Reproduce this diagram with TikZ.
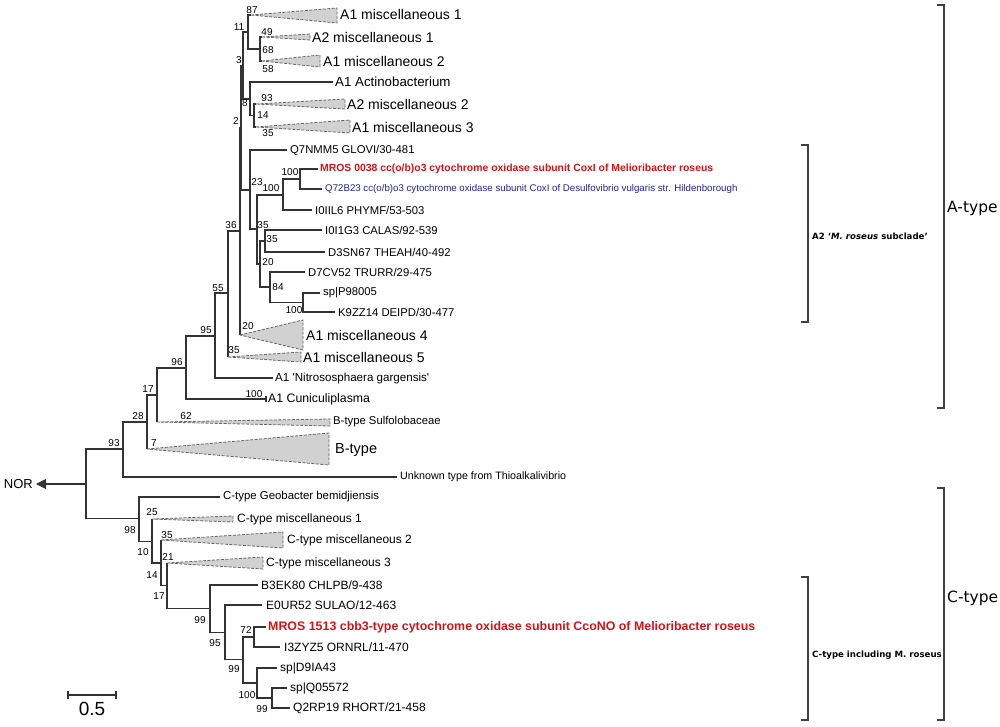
\documentclass[tikz,border=0pt]{standalone}
\usepackage{fontspec}
\setmainfont{Liberation Sans}
\newfontfamily\dvs{DejaVu Sans}
\usetikzlibrary{arrows.meta}
\definecolor{mred}{RGB}{210,20,25}
\definecolor{mblue}{RGB}{35,35,150}
\newcommand\ctri[4]{\filldraw[tri] (#1) -- (#2,#3) -- (#2,#4) -- cycle;}
\begin{document}
\begin{tikzpicture}[x=1pt,y=-1pt,
  br/.style={draw=black!80,line width=1.05pt},
  tri/.style={fill=black!18,draw=black!60,line width=0.8pt,dash pattern=on 3pt off 1.5pt},
  lf/.style={anchor=west,inner sep=0pt,font=\fontsize{11.3}{13}\selectfont},
  lfc/.style={anchor=west,inner sep=0pt,font=\fontsize{12}{14}\selectfont},
  tl/.style={anchor=west,inner sep=0pt,font=\fontsize{14}{16}\selectfont},
  bs/.style={inner sep=0pt,font=\fontsize{10}{11}\selectfont},
  brk/.style={draw=black!75,line width=1.1pt},
  blab/.style={anchor=west,inner sep=0pt,font=\dvs\bfseries\fontsize{8.6}{10}\selectfont},
  tlab/.style={anchor=west,inner sep=0pt,font=\dvs\fontsize{15.5}{17}\selectfont},
  ]
\useasboundingbox (0,0) rectangle (1000,727);

% ---------- internal nodes ----------
\coordinate (root) at (86,484);
\coordinate (n93) at (123,449);
\coordinate (n28) at (147,422);
\coordinate (n17) at (157,395);
\coordinate (n96) at (186,368);
\coordinate (n95) at (215,336);
\coordinate (n55) at (228,293);
\coordinate (n36) at (240,231);
\coordinate (n2) at (241,128);
\coordinate (n3) at (243,65.5);
\coordinate (n11) at (248,32);
\coordinate (n68) at (260,49);
\coordinate (n8) at (250,99);
\coordinate (n14) at (254,115.5);
\coordinate (n23) at (250,190);
\coordinate (n35a) at (257,229);
\coordinate (n100b) at (283,195);
\coordinate (n100a) at (300,179);
\coordinate (n20a) at (260,264);
\coordinate (n35b) at (265,241);
\coordinate (n84) at (270,287);
\coordinate (n100c) at (303,302.5);
% C clade
\coordinate (n98) at (139,518.5);
\coordinate (n10) at (152,541.5);
\coordinate (n14c) at (161,563);
\coordinate (n17c) at (167,585.5);
\coordinate (n99a) at (210,608.5);
\coordinate (n95c) at (225,632.5);
\coordinate (n99b) at (243,659.5);
\coordinate (n72) at (254,637);
\coordinate (n100d) at (257,683);
\coordinate (n99c) at (272,698);

% ---------- leaf tips ----------
\coordinate (a1m1) at (251,15);
\coordinate (a2m1) at (262,37);
\coordinate (a1m2) at (262,61);
\coordinate (act) at (333,82);
\coordinate (a2m2) at (256,104);
\coordinate (a1m3) at (256,127);
\coordinate (q7) at (287,150);
\coordinate (mros) at (318,169);
\coordinate (q72) at (322,189);
\coordinate (i0iil6) at (312,210);
\coordinate (i0i1g3) at (322,230);
\coordinate (d3sn) at (325,252);
\coordinate (d7cv) at (305,272);
\coordinate (p98) at (320,293);
\coordinate (k9zz) at (335,312);
\coordinate (a1m4) at (240,335);
\coordinate (a1m5) at (228,357);
\coordinate (nitro) at (273,378);
\coordinate (cunic) at (266,399);
\coordinate (sulfo) at (157,422);
\coordinate (btype) at (147,449);
\coordinate (unk) at (397,477);
\coordinate (geob) at (220,497);
\coordinate (cm1) at (152,519);
\coordinate (cm2) at (161,540);
\coordinate (cm3) at (167,563);
\coordinate (b3ek) at (258,585);
\coordinate (e0ur) at (262,605);
\coordinate (mr15) at (266,627);
\coordinate (i3zy) at (280,647);
\coordinate (d9ia) at (277,668);
\coordinate (q055) at (287,688);
\coordinate (q2rp) at (290,708);

% ---------- branches ----------
\draw[br] (root) |- (n93); \draw[br] (root) |- (n98);
\draw[br] (n93) |- (n28); \draw[br] (n93) |- (unk);
\draw[br] (n28) |- (n17); \draw[br] (n28) |- (btype);
\draw[br] (n17) |- (n96); \draw[br] (n17) |- (sulfo);
\draw[br] (n96) |- (n95); \draw[br] (n96) |- (cunic);
\draw[br] (n95) |- (n55); \draw[br] (n95) |- (nitro);
\draw[br] (n55) |- (n36); \draw[br] (n55) |- (a1m5);
\draw[br] (n36) |- (n2); \draw[br] (n36) |- (a1m4);
\draw[br] (n2) |- (n3); \draw[br] (n2) |- (n23);
\draw[br] (n3) |- (n11); \draw[br] (n3) |- (n8);
\draw[br] (n11) |- (a1m1); \draw[br] (n11) |- (n68);
\draw[br] (n68) |- (a2m1); \draw[br] (n68) |- (a1m2);
\draw[br] (n8) |- (act); \draw[br] (n8) |- (n14);
\draw[br] (n14) |- (a2m2); \draw[br] (n14) |- (a1m3);
\draw[br] (n23) |- (q7); \draw[br] (n23) |- (n35a);
\draw[br] (n35a) |- (n100b); \draw[br] (n35a) |- (n20a);
\draw[br] (n100b) |- (n100a); \draw[br] (n100b) |- (i0iil6);
\draw[br] (n100a) |- (mros); \draw[br] (n100a) |- (q72);
\draw[br] (n20a) |- (n35b); \draw[br] (n20a) |- (n84);
\draw[br] (n35b) |- (i0i1g3); \draw[br] (n35b) |- (d3sn);
\draw[br] (n84) |- (d7cv); \draw[br] (n84) |- (n100c);
\draw[br] (n100c) |- (p98); \draw[br] (n100c) |- (k9zz);
\draw[br] (cunic) ++(0,-3) -- ++(0,6);
% C clade
\draw[br] (n98) |- (geob); \draw[br] (n98) |- (n10);
\draw[br] (n10) |- (cm1); \draw[br] (n10) |- (n14c);
\draw[br] (n14c) |- (cm2); \draw[br] (n14c) |- (n17c);
\draw[br] (n17c) |- (cm3); \draw[br] (n17c) |- (n99a);
\draw[br] (n99a) |- (b3ek); \draw[br] (n99a) |- (n95c);
\draw[br] (n95c) |- (e0ur); \draw[br] (n95c) |- (n99b);
\draw[br] (n99b) |- (n72); \draw[br] (n99b) |- (n100d);
\draw[br] (n72) |- (mr15); \draw[br] (n72) |- (i3zy);
\draw[br] (n100d) |- (d9ia); \draw[br] (n100d) |- (n99c);
\draw[br] (n99c) |- (q055); \draw[br] (n99c) |- (q2rp);

% ---------- collapsed clades ----------
\ctri{a1m1}{337}{8}{23}
\ctri{a2m1}{310}{34}{40}
\ctri{a1m2}{320}{55}{67}
\ctri{a2m2}{345}{99}{109}
\ctri{a1m3}{350}{120}{133}
\ctri{a1m4}{303}{320}{350}
\ctri{a1m5}{301}{352}{362}
\ctri{sulfo}{330}{419}{426}
\ctri{btype}{329}{433}{465}
\ctri{cm1}{233}{516}{522}
\ctri{cm2}{283}{532}{548}
\ctri{cm3}{263}{557}{569}

% ---------- NOR arrow ----------
\coordinate (norend) at (36,484);
\draw[br,-{Triangle[length=10pt,width=10pt]}] (root) -- (norend);
\node[anchor=east,inner sep=0pt,font=\fontsize{13}{15}\selectfont] (nor) at (33,484) {NOR};

% ---------- leaf labels ----------
\node[tl] (t1) at (340,15) {A1 miscellaneous 1};
\node[tl] (t2) at (312,37) {A2 miscellaneous 1};
\node[tl] (t3) at (323,61) {A1 miscellaneous 2};
\node[anchor=west,inner sep=0pt,font=\fontsize{13.3}{15}\selectfont] (t4) at (335,82) {A1 Actinobacterium};
\node[tl] (t5) at (347,104) {A2 miscellaneous 2};
\node[tl] (t6) at (352,127) {A1 miscellaneous 3};
\node[lf] (t7) at (290,150) {Q7NMM5 GLOVI/30-481};
\node[anchor=west,inner sep=0pt,text=mred,font=\bfseries\fontsize{10.4}{12}\selectfont] (t8) at (320,169) {MROS 0038 cc(o/b)o3 cytochrome oxidase subunit CoxI of Melioribacter roseus};
\node[anchor=west,inner sep=0pt,text=mblue,font=\fontsize{9.7}{11}\selectfont] (t9) at (325,189) {Q72B23 cc(o/b)o3 cytochrome oxidase subunit CoxI of Desulfovibrio vulgaris str. Hildenborough};
\node[lf] (t10) at (315,210) {I0IIL6 PHYMF/53-503};
\node[lf] (t11) at (325,230) {I0I1G3 CALAS/92-539};
\node[lf] (t12) at (328,252) {D3SN67 THEAH/40-492};
\node[lf] (t13) at (308,272) {D7CV52 TRURR/29-475};
\node[lf] (t14) at (323,293) {sp\textbar P98005};
\node[lf] (t15) at (338,312) {K9ZZ14 DEIPD/30-477};
\node[tl] (t16) at (306,335) {A1 miscellaneous 4};
\node[tl] (t17) at (303,357) {A1 miscellaneous 5};
\node[anchor=west,inner sep=0pt,font=\fontsize{11.6}{13}\selectfont] (t18) at (275,378) {A1 \textquotesingle Nitrososphaera gargensis\textquotesingle};
\node[anchor=west,inner sep=0pt,font=\fontsize{12.3}{14}\selectfont] (t19) at (268,399) {A1 Cuniculiplasma};
\node[lf] (t20) at (333,422) {B-type Sulfolobaceae};
\node[anchor=west,inner sep=0pt,font=\fontsize{14.5}{16}\selectfont] (t21) at (335,450) {B-type};
\node[anchor=west,inner sep=0pt,font=\fontsize{10.7}{12}\selectfont] (t22) at (400,477) {Unknown type from Thioalkalivibrio};
\node[anchor=west,inner sep=0pt,font=\fontsize{11.4}{13}\selectfont] (t23) at (223,497) {C-type Geobacter bemidjiensis};
\node[lfc] (t24) at (237,519) {C-type miscellaneous 1};
\node[lfc] (t25) at (287,540) {C-type miscellaneous 2};
\node[lfc] (t26) at (266,563) {C-type miscellaneous 3};
\node[lfc] (t27) at (261,585) {B3EK80 CHLPB/9-438};
\node[lfc] (t28) at (266,605) {E0UR52 SULAO/12-463};
\node[anchor=west,inner sep=0pt,text=mred,font=\bfseries\fontsize{12.4}{14}\selectfont] (t29) at (268,627) {MROS 1513 cbb3-type cytochrome oxidase subunit CcoNO of Melioribacter roseus};
\node[lfc] (t30) at (284,647) {I3ZYZ5 ORNRL/11-470};
\node[lfc] (t31) at (280,668) {sp\textbar D9IA43};
\node[lfc] (t32) at (290,688) {sp\textbar Q05572};
\node[lfc] (t33) at (293,708) {Q2RP19 RHORT/21-458};

% ---------- bootstrap values ----------
\node[bs] (b1) at (252,10) {87};
\node[bs] (b2) at (239,27) {11};
\node[bs] (b3) at (267,32) {49};
\node[bs] (b4) at (268,50) {68};
\node[bs] (b5) at (268,69) {58};
\node[bs] (b6) at (239,60) {3};
\node[bs] (b7) at (267,98) {93};
\node[bs] (b8) at (245,103) {8};
\node[bs] (b9) at (263,115) {14};
\node[bs] (b10) at (268,133) {35};
\node[bs] (b11) at (236,121) {2};
\node[bs] (b12) at (231,225) {36};
\node[bs] (b13) at (257,182) {23};
\node[bs] (b14) at (290,172) {100};
\node[bs] (b15) at (271,188) {100};
\node[bs] (b16) at (263,225) {35};
\node[bs] (b17) at (272,239) {35};
\node[bs] (b18) at (268,262) {20};
\node[bs] (b19) at (278,287) {84};
\node[bs] (b20) at (294,310) {100};
\node[bs] (b21) at (248,326) {20};
\node[bs] (b22) at (234,350) {35};
\node[bs] (b23) at (254,394) {100};
\node[bs] (b24) at (218,288) {55};
\node[bs] (b25) at (206,330) {95};
\node[bs] (b26) at (177,362) {96};
\node[bs] (b27) at (148,389) {17};
\node[bs] (b28) at (138,416) {28};
\node[bs] (b29) at (186,416) {62};
\node[bs] (b30) at (114,443) {93};
\node[bs] (b31) at (154,443) {7};
\node[bs] (b32) at (130,530) {98};
\node[bs] (b33) at (152,512) {25};
\node[bs] (b34) at (143,552) {10};
\node[bs] (b35) at (167,535) {35};
\node[bs] (b36) at (168,557) {21};
\node[bs] (b37) at (152,575) {14};
\node[bs] (b38) at (159,596) {17};
\node[bs] (b39) at (200,620) {99};
\node[bs] (b40) at (215,643) {95};
\node[bs] (b41) at (246,630) {72};
\node[bs] (b42) at (234,669) {99};
\node[bs] (b43) at (247,695) {100};
\node[bs] (b44) at (262,709) {99};

% ---------- brackets ----------
\draw[brk] (937,5) -- (944,5) -- (944,408) -- (937,408);
\node[tlab] (atype) at (947,208) {A-type};
\draw[brk] (937,488) -- (944,488) -- (944,720) -- (937,720);
\node[tlab] (ctype) at (947,598) {C-type};
\draw[brk] (801,145) -- (808,145) -- (808,322) -- (801,322);
\node[blab] (a2lab) at (812,236) {A2 ‘\textit{M. roseus} subclade’};
\draw[brk] (801,577) -- (808,577) -- (808,720) -- (801,720);
\node[blab] (clab) at (812,655) {C-type including M. roseus};

% ---------- scale bar ----------
\coordinate (sb1) at (68,695);
\coordinate (sb2) at (116,695);
\draw[br] (sb1) -- (sb2);
\draw[br] (sb1) ++(0,-4) -- ++(0,8);
\draw[br] (sb2) ++(0,-4) -- ++(0,8);
\node[inner sep=0pt,font=\fontsize{19}{21}\selectfont] (sblab) at (92,709) {0.5};
\end{tikzpicture}
\end{document}
